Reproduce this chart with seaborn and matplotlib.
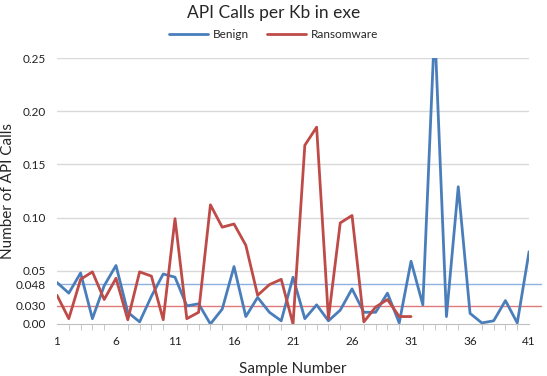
import numpy as np
import pandas as pd
import matplotlib
matplotlib.use("Agg")
import matplotlib.pyplot as plt
import seaborn as sns

# API calls per Kb
benign = [0.039, 0.029, 0.048, 0.005, 0.036, 0.055, 0.011, 0.002, 0.026, 0.047,
          0.044, 0.017, 0.019, 0.000, 0.014, 0.054, 0.007, 0.025, 0.011, 0.003,
          0.044, 0.005, 0.018, 0.003, 0.013, 0.033, 0.011, 0.011, 0.029, 0.001,
          0.059, 0.018, 0.280, 0.007, 0.129, 0.010, 0.001, 0.003, 0.022, 0.001,
          0.068]
ransomware = [0.027, 0.005, 0.042, 0.049, 0.023, 0.043, 0.004, 0.049, 0.045, 0.004,
              0.099, 0.005, 0.011, 0.112, 0.091, 0.094, 0.074, 0.027, 0.037, 0.042,
              0.000, 0.168, 0.185, 0.005, 0.095, 0.102, 0.002, 0.016, 0.023, 0.007,
              0.007]

# reference lines as drawn, with the labels the chart gives them
ref_pos = {"Benign": 0.0373, "Ransomware": 0.0172}
ref_label = {"Benign": "0.048", "Ransomware": "0.030"}

colors = {"Benign": "#4a7ebb", "Ransomware": "#be4b48"}
ref_colors = {"Benign": "#8db0dd", "Ransomware": "#e07a78"}

df = pd.concat([
    pd.DataFrame({"Sample": np.arange(1, len(benign) + 1), "Calls": benign, "Type": "Benign"}),
    pd.DataFrame({"Sample": np.arange(1, len(ransomware) + 1), "Calls": ransomware, "Type": "Ransomware"}),
])

sns.set_style("white")
plt.rcParams["font.family"] = ["Lato", "DejaVu Sans"]

fig = plt.figure(figsize=(5.47, 3.76), dpi=100)
ax = fig.add_axes([0.1042, 0.1383, 0.863, 0.7074])

sns.lineplot(data=df, x="Sample", y="Calls", hue="Type", palette=colors,
             linewidth=2.0, ax=ax, legend=False)

for k in ["Benign", "Ransomware"]:
    ax.plot([1, 42], [ref_pos[k]] * 2, color=ref_colors[k], lw=1.0, clip_on=False, zorder=1)

ax.set_xlim(1, 41)
ax.set_ylim(0, 0.25)

grid_vals = [0.05, 0.10, 0.15, 0.20, 0.25]
for g in grid_vals:
    ax.axhline(g, color="#d9d9d9", lw=1.0, zorder=0)

yt = [0.0, ref_pos["Ransomware"], ref_pos["Benign"]] + grid_vals
ytl = ["0.00", ref_label["Ransomware"], ref_label["Benign"]] + [f"{v:.2f}" for v in grid_vals]
ax.set_yticks(yt)
ax.set_yticklabels(ytl)
ax.set_xticks(np.arange(1, 42, 5))
ax.set_xticks(np.arange(1, 42), minor=True)

ax.tick_params(axis="y", length=0, labelsize=8.5, colors="#222222", pad=8)
ax.tick_params(axis="x", which="major", length=4, labelsize=8.5, colors="#222222", pad=5, color="#bfbfbf")
ax.tick_params(axis="x", which="minor", length=4, color="#bfbfbf", bottom=True)
for s in ["top", "right", "left"]:
    ax.spines[s].set_visible(False)
ax.spines["bottom"].set_color("#bfbfbf")

ax.set_xlabel("Sample Number", fontsize=11)
ax.set_ylabel("Number of API Calls", fontsize=11)
ax.xaxis.set_label_coords(0.5, -0.143)
ax.yaxis.set_label_coords(-0.089, 0.5)
fig.text(0.5, 1 - 13 / 376, "API Calls per Kb in exe", fontsize=12.5, ha="center", va="center")

handles = [plt.Line2D([], [], color=colors[k], lw=2.0) for k in ["Benign", "Ransomware"]]
fig.legend(handles, ["Benign", "Ransomware"], loc="center", bbox_to_anchor=(0.5, 1 - 35 / 376),
           ncol=2, frameon=False, fontsize=8.5, handlelength=3.3, columnspacing=1.5, handletextpad=0.4)

fig.savefig("out.png", dpi=100)
